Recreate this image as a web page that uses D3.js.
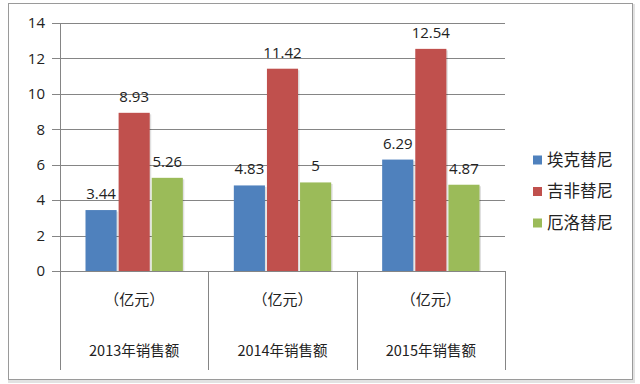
<!DOCTYPE html>
<html>
<head>
<meta charset="utf-8">
<script src="https://cdn.jsdelivr.net/npm/d3@7"></script>
<style>
  body { margin: 0; background: #fff; }
  svg { display: block; }
  text { font-family: 'Open Sans', 'Noto Sans CJK SC', sans-serif; }
</style>
</head>
<body>
<svg id="chart" width="640" height="384"></svg>
<script>
// Data
const years = ['2013年销售额', '2014年销售额', '2015年销售额'];
const series = ['埃克替尼', '吉非替尼', '厄洛替尼'];
const egfr = [3.44, 4.83, 6.29];      // 埃克替尼
const gefi = [8.93, 11.42, 12.54];    // 吉非替尼
const erlo = [5.26, 5, 4.87];         // 厄洛替尼
const yTicks = [0, 2, 4, 6, 8, 10, 12, 14];
const unitLabel = '（亿元）';
const colors = ['#4F81BD', '#C0504D', '#9BBB59'];

const values = [egfr, gefi, erlo];
const svg = d3.select('#chart');

// outer frame
svg.append('rect')
    .attr('x', 9.5).attr('y', 5.5).attr('width', 624).attr('height', 376)
    .attr('fill', 'none').attr('stroke', '#e2e2e2').attr('stroke-width', 3);
svg.append('rect')
    .attr('x', 8.5).attr('y', 3.5).attr('width', 624).attr('height', 376)
    .attr('fill', '#fff').attr('stroke', '#9a9a9a');

const x0 = d3.scaleBand().domain(years).range([60, 505]);
const x1 = d3.scaleBand().domain(series).range([0, x0.bandwidth()])
    .paddingInner(0.06).paddingOuter(0.77);
const y = d3.scaleLinear().domain([0, 14]).range([271, 23]);

// gridlines
svg.append('g').selectAll('line').data(yTicks).join('line')
    .attr('x1', 52).attr('x2', 505)
    .attr('y1', d => Math.round(y(d)) + 0.5).attr('y2', d => Math.round(y(d)) + 0.5)
    .attr('stroke', '#858585').attr('stroke-width', 1);

// y tick labels
svg.append('g').selectAll('text').data(yTicks).join('text')
    .attr('x', 45).attr('y', d => y(d)).attr('dy', '0.35em')
    .attr('text-anchor', 'end').attr('font-size', 15).attr('fill', '#222')
    .text(d => d);

// bars
const groups = svg.append('g').selectAll('g').data(years).join('g')
    .attr('transform', d => `translate(${x0(d)},0)`);

const cells = groups.selectAll('g').data((d, i) => series.map((s, j) => ({ s, j, v: values[j][i] })))
    .join('g');

cells.append('rect')
    .attr('x', d => x1(d.s) + 1.5).attr('y', d => y(d.v) + 1.5)
    .attr('width', x1.bandwidth()).attr('height', d => y(0) - y(d.v) - 1.5)
    .attr('fill', '#000').attr('opacity', 0.12);
cells.append('rect')
    .attr('x', d => x1(d.s)).attr('y', d => y(d.v))
    .attr('width', x1.bandwidth()).attr('height', d => y(0) - y(d.v))
    .attr('fill', d => colors[d.j]);

cells.append('text')
    .attr('x', d => x1(d.s) + x1.bandwidth() / 2)
    .attr('y', d => y(d.v) - 11)
    .attr('text-anchor', 'middle').attr('font-size', 15).attr('fill', '#222')
    .text(d => d.v);

// category axis (table-like)
svg.append('line')
    .attr('x1', 52).attr('x2', 505).attr('y1', 271.5).attr('y2', 271.5)
    .attr('stroke', '#858585');
const bounds = [60, 505].concat(years.slice(1).map(d => x0(d)));
svg.append('g').selectAll('line').data(bounds).join('line')
    .attr('x1', d => Math.round(d) + 0.5).attr('x2', d => Math.round(d) + 0.5)
    .attr('y1', d => d === 60 ? 23 : 271).attr('y2', 370)
    .attr('stroke', '#858585');

const cat = svg.append('g').selectAll('g').data(years).join('g')
    .attr('transform', d => `translate(${x0(d) + x0.bandwidth() / 2},0)`);
cat.append('text')
    .attr('y', 300).attr('dy', '0.35em').attr('text-anchor', 'middle')
    .style('font-family', 'Noto Sans CJK SC').attr('font-size', 15).attr('fill', '#222')
    .text(unitLabel);
cat.append('text')
    .attr('y', 351).attr('dy', '0.35em').attr('text-anchor', 'middle')
    .style('font-family', 'Noto Sans CJK SC').attr('font-size', 14.5).attr('fill', '#222')
    .text(d => d);

// legend
const legend = svg.append('g').selectAll('g').data(series).join('g')
    .attr('transform', (d, i) => `translate(533,${160 + i * 31.5})`);
legend.append('rect')
    .attr('x', 0).attr('y', -4.5).attr('width', 9).attr('height', 9)
    .attr('fill', (d, i) => colors[i]);
legend.append('text')
    .attr('x', 14).attr('dy', '0.35em')
    .style('font-family', 'Noto Sans CJK SC').attr('font-size', 16.5).attr('fill', '#222')
    .text(d => d);
</script>
</body>
</html>
